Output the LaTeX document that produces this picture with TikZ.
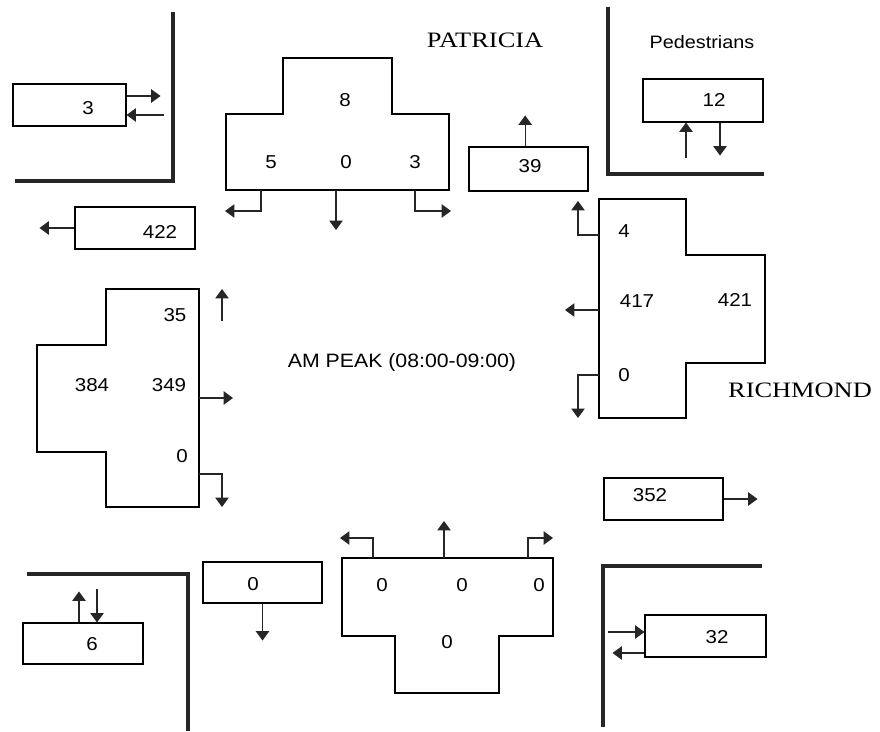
\documentclass[tikz,border=0pt]{standalone}
\usepackage{fontspec}
\setmainfont{Liberation Sans}[FakeStretch=1.1]
\newfontfamily\streetserif{Liberation Serif}[FakeStretch=1.2]
\usepackage{tikz}
\usetikzlibrary{arrows.meta, positioning, fit}
\newcommand{\volfont}{\fontsize{14}{16}\selectfont}
\newcommand{\streetfont}{\streetserif\fontsize{16.5}{20}\selectfont}
\tikzset{
  road/.style={line width=3pt, black!85},
  volbox/.style={draw, line width=0.8pt, inner sep=0pt},
  apprshape/.style={draw, line width=0.8pt},
  flow/.style={-{Triangle[length=7pt,width=10pt]}, line width=0.8pt, black!85},
  vol/.style={font=\volfont, inner sep=1pt},
  street/.style={font=\streetfont},
}

\begin{document}
\begin{tikzpicture}[x=0.75pt, y=-0.75pt]
  \useasboundingbox (0,0) rectangle (880,731);
  % Kerbs at the corners
  \draw[road] (173,12) -- (173,181) -- (15,181);
  \draw[road] (608,7) -- (608,174) -- (764,174);
  \draw[road] (27,574) -- (188,574) -- (188,731);
  \draw[road] (762,566) -- (603,566) -- (603,727);
  % Street names and titles
  \node[street] (patricia) at (485,40) {PATRICIA};
  \node[street] (richmond) at (800,390) {RICHMOND};
  \node[font=\fontsize{13.5}{16}\selectfont] (ped) at (702,42) {Pedestrians};
  \node[font=\fontsize{14.5}{17}\selectfont] (title) at (402,362) {AM PEAK (08:00-09:00)};
  % Exit and pedestrian boxes
  \node[volbox, fit={(13,84) (126,126)}] (b3) {};
  \node[vol] (t3) at (88,108) {3};
  \node[volbox, fit={(75,207) (195,249)}] (b422) {};
  \node[vol] (t422) at (160,232) {422};
  \node[volbox, fit={(469,147) (588,191)}] (b39) {};
  \node[vol] (t39) at (530,166) {39};
  \node[volbox, fit={(643,79) (763,122)}] (b12) {};
  \node[vol] (t12) at (714,100) {12};
  \node[volbox, fit={(604,478) (723,520)}] (b352) {};
  \node[vol] (t352) at (650,495) {352};
  \node[volbox, fit={(645,615) (766,657)}] (b32) {};
  \node[vol] (t32) at (717,637) {32};
  \node[volbox, fit={(23,623) (143,664)}] (b6) {};
  \node[vol] (t6) at (92,644) {6};
  \node[volbox, fit={(203,562) (322,603)}] (b0) {};
  \node[vol] (t0) at (253,584) {0};
  \draw[flow] ([yshift=6.75pt]b3.east) -- ++(34,0);
  \draw[flow] ([yshift=-7.5pt]b3.east) ++(37,0) -- ([yshift=-7.5pt]b3.east);
  \draw[flow] (b422.west) -- ++(-35,0);
  \draw[flow] ([xshift=-2.5pt]b39.north) -- ++(0,-31);
  \draw[flow] ([xshift=-12.75pt]b12.south) ++(0,35) -- ([xshift=-12.75pt]b12.south);
  \draw[flow] ([xshift=12.75pt]b12.south) -- ++(0,33);
  \draw[flow] (b352.east) -- ++(34,0);
  \draw[flow] ([yshift=3pt]b32.west) ++(-36,0) -- ([yshift=3pt]b32.west);
  \draw[flow] ([yshift=-12.75pt]b32.west) -- ++(-32,0);
  \draw[flow] ([xshift=-3pt]b6.north) -- ++(0,-31);
  \draw[flow] ([xshift=10.5pt]b6.north) ++(0,-33) -- ([xshift=10.5pt]b6.north);
  \draw[flow] (b0.south) -- ++(0,37);
  % Patricia approach
  \draw[apprshape] (283,58) -- (392,58) -- (392,114) -- (449,114) -- (449,190)
    -- (226,190) -- (226,114) -- (283,114) -- cycle;
  \node[vol] (pat8) at (345,100) {8};
  \node[vol] (pat5) at (271,162) {5};
  \node[vol] (pat0) at (346,162) {0};
  \node[vol] (pat3) at (415,162) {3};
  \draw[flow] (261,190) -- (261,211) -- (225,211);
  \draw[flow] (336,190) -- (336,230);
  \draw[flow] (415,190) -- (415,211) -- (451,211);
  % Richmond approach (east)
  \draw[apprshape] (599,199) -- (686,199) -- (686,255) -- (765,255) -- (765,363)
    -- (686,363) -- (686,418) -- (599,418) -- cycle;
  \node[vol] (re4) at (624,231) {4};
  \node[vol] (re417) at (637,301) {417};
  \node[vol] (re421) at (735,300) {421};
  \node[vol] (re0) at (624,375) {0};
  \draw[flow] (599,235) -- (578,235) -- (578,201);
  \draw[flow] (599,310) -- (565,310);
  \draw[flow] (599,375) -- (578,375) -- (578,418);
  % Richmond approach (west)
  \draw[apprshape] (106,289) -- (199,289) -- (199,507) -- (106,507) -- (106,452)
    -- (37,452) -- (37,345) -- (106,345) -- cycle;
  \node[vol] (rw35) at (175,315) {35};
  \node[vol] (rw384) at (92,385) {384};
  \node[vol] (rw349) at (169,385) {349};
  \node[vol] (rw0) at (182,456) {0};
  \draw[flow] (222,321) -- (222,289);
  \draw[flow] (199,398) -- (233,398);
  \draw[flow] (199,474) -- (222,474) -- (222,507);
  % Patricia approach (south)
  \draw[apprshape] (342,558) -- (553,558) -- (553,636) -- (499,636) -- (499,693)
    -- (395,693) -- (395,636) -- (342,636) -- cycle;
  \node[vol] (ps0l) at (382,585) {0};
  \node[vol] (ps0m) at (462,585) {0};
  \node[vol] (ps0r) at (539,585) {0};
  \node[vol] (ps0b) at (447,642) {0};
  \draw[flow] (373,558) -- (373,538) -- (340,538);
  \draw[flow] (444,558) -- (444,521);
  \draw[flow] (528,558) -- (528,538) -- (553,538);
\end{tikzpicture}
\end{document}
